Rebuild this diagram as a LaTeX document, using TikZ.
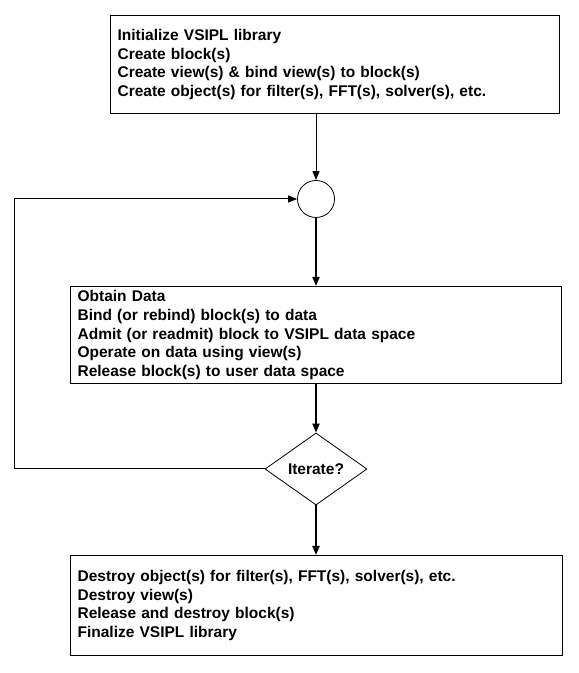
\documentclass[tikz,border=0pt]{standalone}
\usepackage{fontspec}
\setmainfont{Liberation Sans}
\usetikzlibrary{shapes.geometric,arrows.meta}
\begin{document}
\begin{tikzpicture}[x=1pt,y=1pt,
  stepbox/.style={draw,line width=1.2pt,anchor=north west,inner xsep=7pt,inner ysep=0pt,
    align=left,font=\bfseries\fontsize{15.5}{18.6}\selectfont},
  thin arrow/.style={-{Triangle[length=9pt,width=7pt]},line width=1pt},
  thick arrow/.style={-{Triangle[length=9pt,width=7pt]},line width=2pt}]
\useasboundingbox (0,0) rectangle (579,673);

\node[stepbox,minimum height=98pt,text width=435pt] (init) at (110,658)
  {Initialize VSIPL library\\Create block(s)\\Create view(s) \& bind view(s) to block(s)\\
   Create object(s) for filter(s), FFT(s), solver(s), etc.};
\node[draw,circle,minimum size=37pt,inner sep=0pt,line width=0.8pt] (join) at (316,474) {};
\node[stepbox,minimum height=97pt,text width=477pt] (obtain) at (70,387)
  {Obtain Data\\Bind (or rebind) block(s) to data\\Admit (or readmit) block to VSIPL data space\\
   Operate on data using view(s)\\Release block(s) to user data space};
\node[draw,diamond,minimum width=102pt,minimum height=72pt,inner sep=0pt,line width=0.8pt,
  font=\bfseries\fontsize{15.5}{18.6}\selectfont] (iter) at (316,204) {Iterate?};
\node[stepbox,minimum height=100pt,text width=478pt] (final) at (70,118)
  {Destroy object(s) for filter(s), FFT(s), solver(s), etc.\\Destroy view(s)\\
   Release and destroy block(s)\\Finalize VSIPL library};
\coordinate (loop) at (14,0);

\draw[thin arrow] (join |- init.south) -- (join.north);
\draw[thick arrow] (join.south) -- (join.south |- obtain.north);
\draw[thick arrow] (iter |- obtain.south) -- (iter.north);
\draw[thick arrow] (iter.south) -- (iter.south |- final.north);
\draw[thin arrow] (iter.west) -- (iter.west -| loop) |- (join.west);

\end{tikzpicture}
\end{document}
